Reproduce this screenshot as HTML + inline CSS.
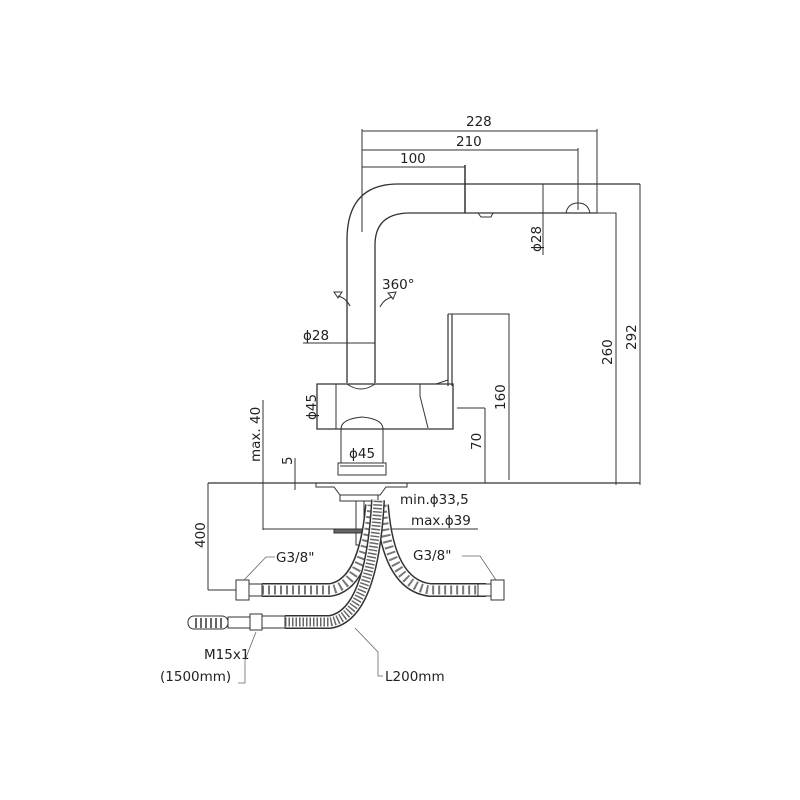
<!DOCTYPE html>
<html><head><meta charset="utf-8"><style>
html,body{margin:0;padding:0;background:#fff}
svg{display:block}
text{font-family:"DejaVu Sans","Liberation Sans",sans-serif;fill:#222;font-size:13.5px}
</style></head><body>
<svg width="800" height="800" viewBox="0 0 800 800" xmlns="http://www.w3.org/2000/svg">
<g stroke="#333" stroke-width="1" fill="none">
<line x1="362" y1="131" x2="597" y2="131"/>
<line x1="362" y1="150" x2="578" y2="150"/>
<line x1="362" y1="167" x2="465" y2="167"/>
<line x1="362" y1="129" x2="362" y2="232"/>
<line x1="597" y1="129" x2="597" y2="213"/>
<line x1="578" y1="148" x2="578" y2="210"/>
<line x1="465" y1="165" x2="465" y2="213" stroke-width="1.5"/>
<path d="M640,184 L398,184 Q347,184 347,240 L347,383" stroke-width="1.3"/>
<path d="M597,213 L410,213 Q375,213 375,245 L375,383" stroke-width="1.3"/>
<path d="M478,213 l3,4 h10 l2,-4"/>
<path d="M566,213 q2,-10 12,-10 q10,0 12,10 h26 v272"/>
<line x1="640" y1="184" x2="640" y2="485"/>
<line x1="543" y1="184" x2="543" y2="255"/>
<path d="M338,296 q8,2 12,10"/><path d="M334,292 l8,0 l-4,6 z"/>
<path d="M380,307 q4,-8 12,-10"/><path d="M388,293 l8,-1 l-3,7 z"/>
<line x1="303" y1="343" x2="375" y2="343"/>
<path d="M317,384 L453,384 L453,429 L317,429 Z" stroke-width="1.3"/>
<line x1="336" y1="384" x2="336" y2="429"/>
<path d="M347,384 q14,10 28,0"/>
<path d="M341,429 q0,-10 21,-12 q21,2 21,12"/>
<path d="M420,384 l0,12 l8,32"/>
<path d="M448,314 L509,314 L509,480"/>
<path d="M448,314 L448,386 M452,314 L452,386" stroke-width="1.2"/>
<path d="M436,384 l12,-4"/>
<line x1="457" y1="408" x2="485" y2="408"/>
<line x1="485" y1="408" x2="485" y2="483"/>
<line x1="341" y1="429" x2="341" y2="463"/>
<line x1="383" y1="429" x2="383" y2="463"/>
<rect x="338" y="463" width="48" height="12"/>
<line x1="340" y1="466" x2="384" y2="466"/>
<line x1="208" y1="483" x2="640" y2="483" stroke-width="1.2"/>
<line x1="263" y1="400" x2="263" y2="530"/>
<line x1="295" y1="458" x2="295" y2="490"/>
<path d="M316,483 L407,483 L407,487 L386,487 L380,495 L340,495 L334,487 L316,487 Z"/>
<rect x="340" y="495" width="38" height="6"/>
<rect x="356" y="501" width="8" height="44"/>
<line x1="263" y1="529" x2="478" y2="529"/>
<rect x="334" y="529" width="40" height="4" fill="#666"/>
<line x1="208" y1="483" x2="208" y2="590"/>
<line x1="208" y1="590" x2="236" y2="590"/>
</g>
<g fill="none">
<path id="h1" d="M262,590 L330,590 Q365,585 372,505"/>
<path id="h2" d="M382,505 Q388,585 430,590 L486,590"/>
<path id="h3" d="M285,622 L330,622 Q372,615 378,500"/>
<use href="#h1" stroke="#333" stroke-width="14"/><use href="#h1" stroke="#fff" stroke-width="11"/><use href="#h1" stroke="#777" stroke-width="9" stroke-dasharray="2 4"/>
<use href="#h2" stroke="#333" stroke-width="14"/><use href="#h2" stroke="#fff" stroke-width="11"/><use href="#h2" stroke="#777" stroke-width="9" stroke-dasharray="2 4"/>
<use href="#h3" stroke="#333" stroke-width="14"/><use href="#h3" stroke="#fff" stroke-width="11"/><use href="#h3" stroke="#666" stroke-width="9" stroke-dasharray="1.5 2"/>
</g>
<g stroke="#333" fill="#fff" stroke-width="1">
<rect x="236" y="580" width="13" height="20"/><rect x="249" y="584" width="13" height="12"/>
<rect x="491" y="580" width="13" height="20"/><rect x="478" y="584" width="13" height="12"/>
<rect x="188" y="616" width="40" height="13" rx="6"/>
<rect x="228" y="617" width="22" height="11"/>
<rect x="250" y="614" width="12" height="16"/>
<rect x="262" y="616" width="23" height="12"/>
</g>
<g stroke="#333" stroke-width="1.5"><path d="M196,618 v10 M201,618 v10 M206,618 v10 M211,618 v10 M216,618 v10 M221,618 v10"/></g>
<g stroke="#666" fill="none" stroke-width="0.8">
<path d="M275,557 L266,557 L244,580"/>
<path d="M462,556 L480,556 L496,580"/>
<path d="M256,632 L245,660 L245,683 L238,683"/>
<path d="M355,628 L378,652 L378,676 L383,676"/>
</g>
<text x="466" y="126">228</text>
<text x="456" y="146">210</text>
<text x="400" y="163">100</text>
<text x="382" y="289">360°</text>
<text x="303" y="340">ϕ28</text>
<text x="349" y="458">ϕ45</text>
<text x="400" y="504">min.ϕ33,5</text>
<text x="411" y="525">max.ϕ39</text>
<text x="276" y="562">G3/8"</text>
<text x="413" y="560">G3/8"</text>
<text x="204" y="659">M15x1</text>
<text x="160" y="681">(1500mm)</text>
<text x="385" y="681">L200mm</text>
<text transform="translate(541,252) rotate(-90)">ϕ28</text>
<text transform="translate(316,420) rotate(-90)">ϕ45</text>
<text transform="translate(505,410) rotate(-90)">160</text>
<text transform="translate(481,450) rotate(-90)">70</text>
<text transform="translate(612,365) rotate(-90)">260</text>
<text transform="translate(636,350) rotate(-90)">292</text>
<text transform="translate(260,462) rotate(-90)">max. 40</text>
<text transform="translate(292,465) rotate(-90)">5</text>
<text transform="translate(205,548) rotate(-90)">400</text>
</svg>
</body></html>
